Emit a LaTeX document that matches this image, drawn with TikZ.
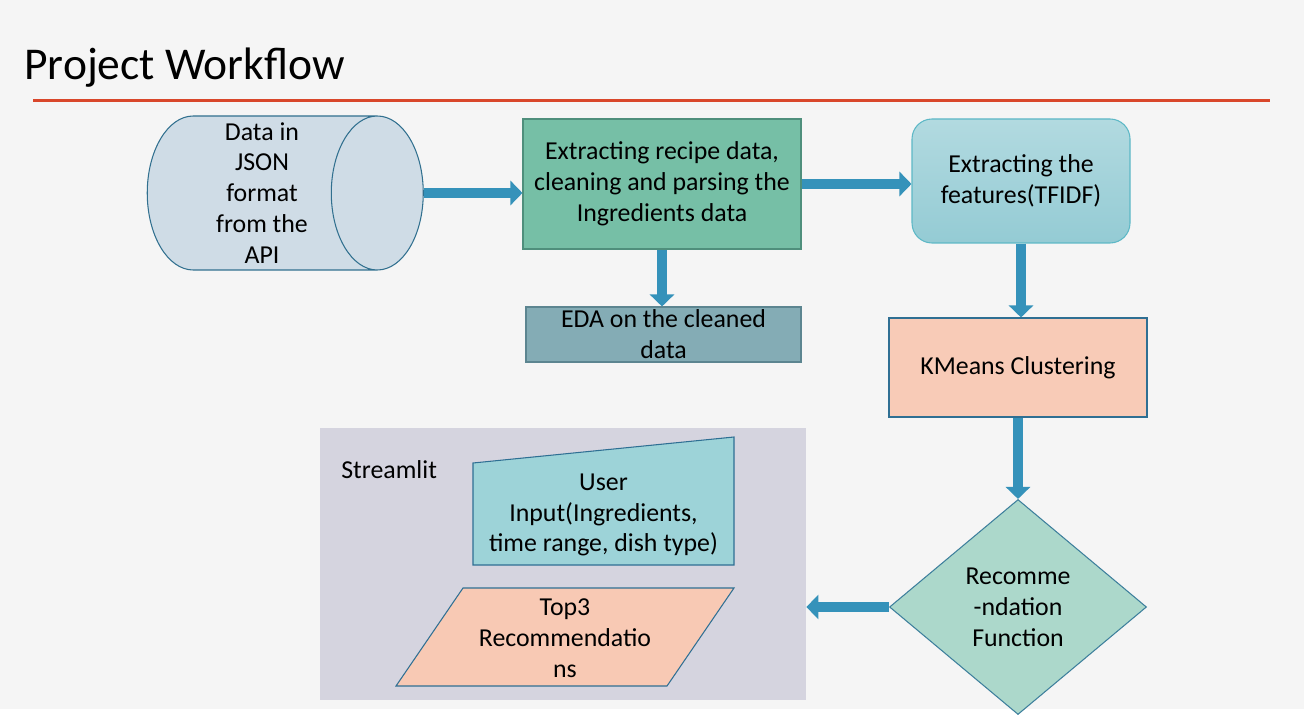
\documentclass[tikz,border=0pt]{standalone}
\usepackage{fontspec}
\setmainfont{Carlito}
\usetikzlibrary{shapes.geometric,arrows.meta}

\definecolor{slidebg}{HTML}{F5F5F5}
\definecolor{titlered}{HTML}{D9472B}
\definecolor{arrowblue}{HTML}{3592BA}
\definecolor{cylfill}{HTML}{CFDCE6}
\definecolor{cylline}{HTML}{31708F}
\definecolor{cleanfill}{HTML}{76BFA6}
\definecolor{cleanline}{HTML}{4F8F7C}
\definecolor{feattop}{HTML}{B2DAE0}
\definecolor{featbot}{HTML}{94CBD4}
\definecolor{featline}{HTML}{5DB8C6}
\definecolor{edafill}{HTML}{84ACB5}
\definecolor{edaline}{HTML}{5C8590}
\definecolor{kmfill}{HTML}{F8CBB7}
\definecolor{boxline}{HTML}{2F6F93}
\definecolor{recfill}{HTML}{ACD8CB}
\definecolor{recline}{HTML}{3D7F9C}
\definecolor{panelfill}{HTML}{D5D4DF}
\definecolor{inputfill}{HTML}{9DD3D8}
\definecolor{topfill}{HTML}{F8C9B4}

\tikzset{
  body/.style={font=\fontsize{14.7}{17.6}\selectfont, align=center, inner sep=0pt},
  procbox/.style={body, rectangle, line width=0.6pt},
  flowarrow/.style={draw=arrowblue, line width=2mm, -{Triangle[width=4.8mm,length=2.4mm]}},
}

\begin{document}
\begin{tikzpicture}[x=0.2mm,y=-0.2mm]

    % Slide area, white strip at the bottom
    \useasboundingbox (0,0) rectangle (1304,726);
    \fill[slidebg] (0,0) rectangle (1304,709);

    % Title and the red rule under it
    \node[anchor=base west, font=\fontsize{25.9}{30}\selectfont, inner sep=0pt] (title) at (24,80) {Project Workflow};
    \draw[titlered, line width=0.6mm] (33,101) -- (1270,101);

    % Data source (cylinder lies on its side, so width and height swap)
    \node[cylinder, body, draw=cylline, fill=cylfill, line width=0.6pt,
          minimum width=30.8mm, minimum height=55.2mm, aspect=0.65] (json) at (262,193)
          {Data in\\JSON\\format\\from the\\API};

    % Top row of steps
    \node[procbox, draw=cleanline, fill=cleanfill, minimum width=55.6mm, minimum height=26mm] (clean) at (662,184)
          {Extracting recipe data,\\cleaning and parsing the\\Ingredients data};
    \node[procbox, draw=featline, top color=feattop, bottom color=featbot, rounded corners=4mm,
          minimum width=43.6mm, minimum height=24.8mm] (feat) at (1021,181)
          {Extracting the\\features(TFIDF)};
    \node[procbox, draw=edaline, fill=edafill, minimum width=55mm, minimum height=11mm] (eda) at (663.5,334.5)
          {EDA on the cleaned\\data};

    % Right column
    \node[procbox, draw=boxline, fill=kmfill, minimum width=51.6mm, minimum height=19.8mm] (kmeans) at (1018,367.5)
          {KMeans Clustering};
    \node[diamond, body, draw=recline, fill=recfill, line width=0.6pt, aspect=1.2,
          minimum width=51.4mm, minimum height=43mm] (rec) at (1018,607)
          {Recomme\\-ndation\\Function};

    % Streamlit panel
    \node[fill=panelfill, inner sep=0pt, minimum width=97.2mm, minimum height=54.4mm] (panel) at (563,564) {};
    \node[body, anchor=west] (stlabel) at (341,470) {Streamlit};

    % Manual input shape
    \filldraw[fill=inputfill, draw=boxline, line width=0.6pt] (473,463) -- (734,437) -- (734,565) -- (473,565) -- cycle;
    \node[body] (userin) at (603.5,515) {User\\Input(Ingredients,\\time range, dish type)};

    % Output parallelogram
    \filldraw[fill=topfill, draw=boxline, line width=0.6pt] (463,588) -- (734,588) -- (667,686) -- (396,686) -- cycle;
    \node[body] (top3) at (565,638) {Top3\\Recommendatio\\ns};

    % Block arrows
    \draw[flowarrow] (json.east) -- (json.east -| clean.west);
    \draw[flowarrow] (clean.east) -- (clean.east -| feat.west);
    \draw[flowarrow] (clean.south) -- (clean.south |- eda.north);
    \draw[flowarrow] (feat.south) -- (feat.south |- kmeans.north);
    \draw[flowarrow] (kmeans.south) -- (rec.north);
    \draw[flowarrow] (rec.west) -- (rec.west -| panel.east);

\end{tikzpicture}
\end{document}
